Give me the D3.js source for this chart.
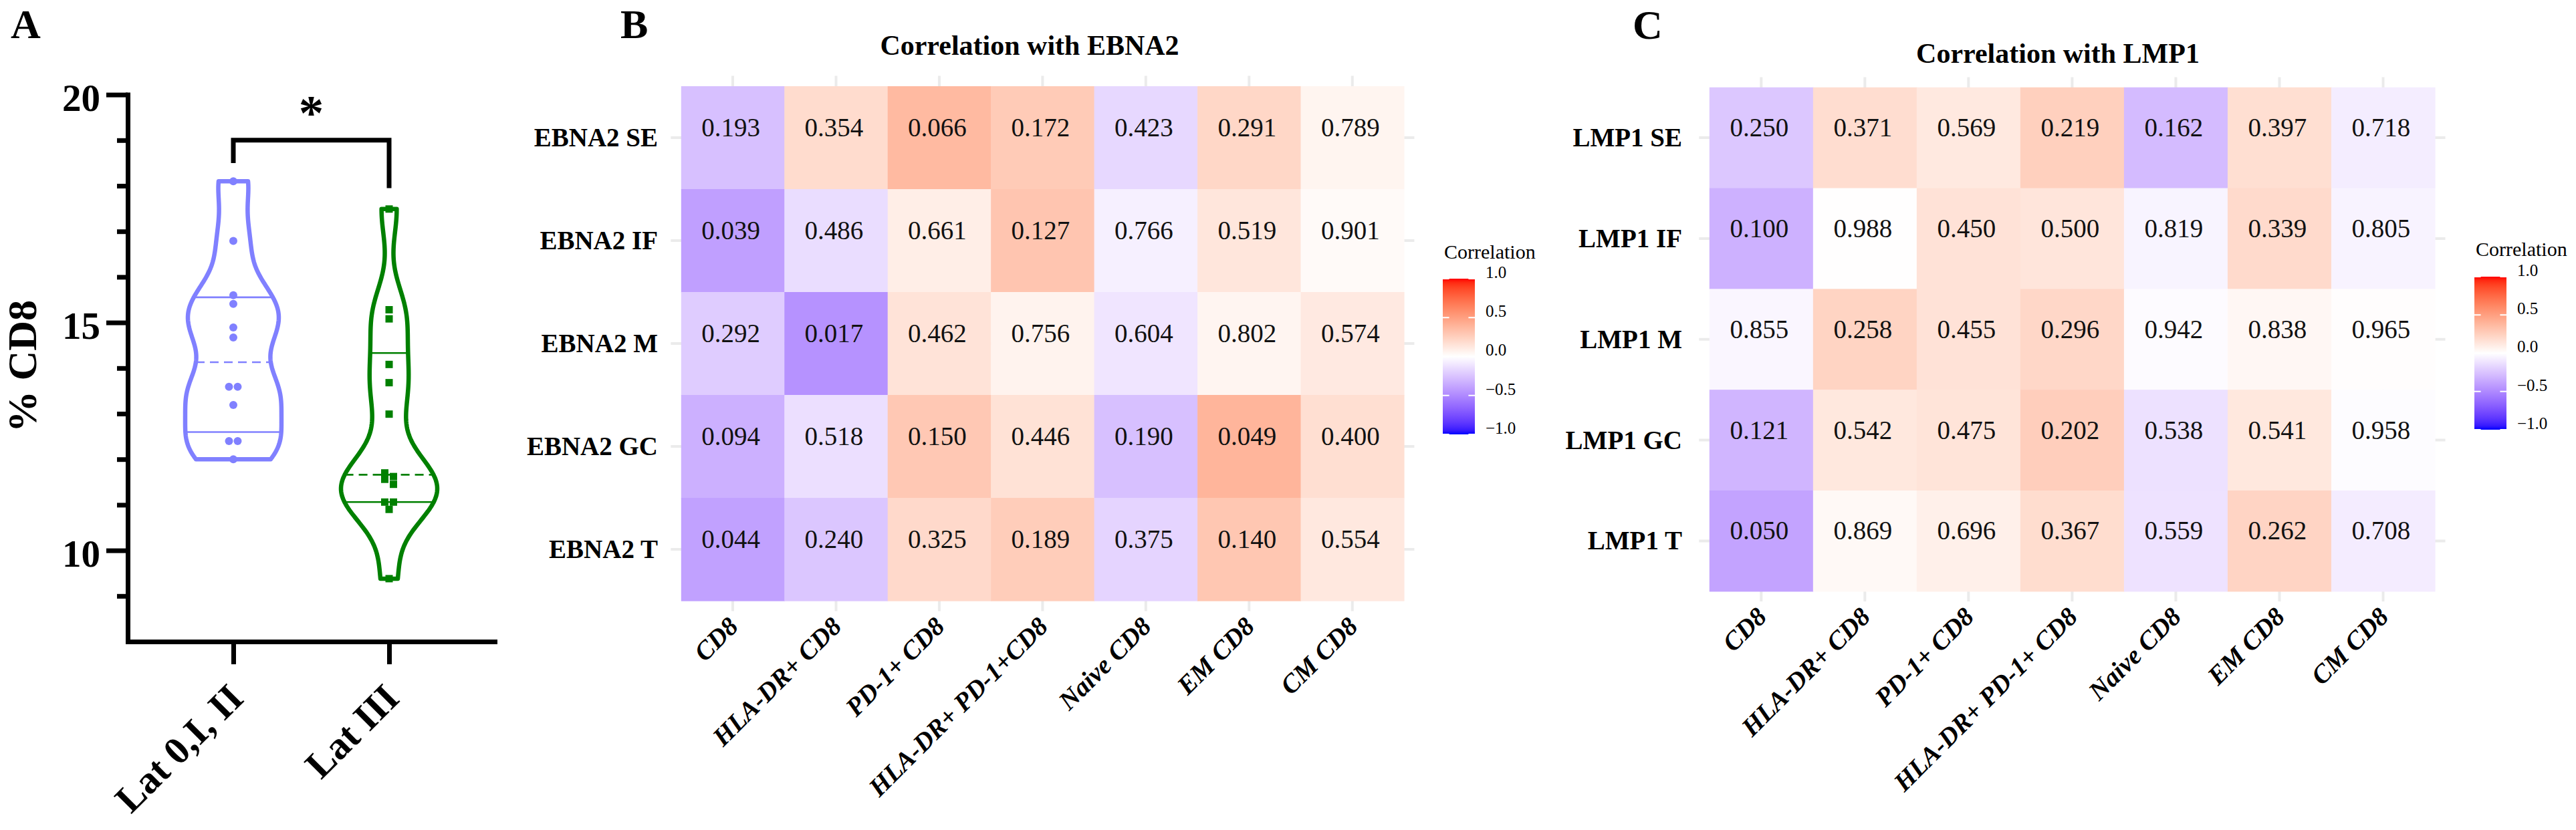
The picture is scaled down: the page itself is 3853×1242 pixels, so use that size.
<!DOCTYPE html>
<html>
<head>
<meta charset="utf-8">
<script src="https://cdn.jsdelivr.net/npm/d3@7"></script>
<style>
  body { margin: 0; background: #ffffff; }
  svg { display: block; }
  text { font-family: "Liberation Serif", "Times New Roman", Times, serif; }
</style>
</head>
<body>
<svg id="chart" width="3853" height="1242"></svg>
<script>
// ---------------- DATA ----------------
// Panel A: % CD8 per latency group
const groups = ["Lat 0,I, II", "Lat III"];
const lat012 = [18.10, 16.79, 15.60, 15.41, 14.89, 14.67, 13.59, 13.59, 13.19, 12.40, 12.40, 12.00];
const lat3 = [17.49, 15.28, 15.08, 14.08, 13.68, 12.99, 11.70, 11.62, 11.56, 11.45, 11.06, 11.06, 10.90, 9.38];
const yTicksMajor = [10, 15, 20];
const yTicksMinor = [9, 11, 12, 13, 14, 16, 17, 18, 19];
const sigText = "*";
const yTitle = "% CD8";

// Panels B and C: heatmaps (fill = correlation, text = p value)
const colsB = ["CD8", "HLA-DR+ CD8", "PD-1+ CD8", "HLA-DR+ PD-1+CD8", "Naive CD8", "EM CD8", "CM CD8"];
const colsC = ["CD8", "HLA-DR+ CD8", "PD-1+ CD8", "HLA-DR+ PD-1+ CD8", "Naive CD8", "EM CD8", "CM CD8"];
const rowsB = ["EBNA2 SE", "EBNA2 IF", "EBNA2 M", "EBNA2 GC", "EBNA2 T"];
const rowsC = ["LMP1 SE", "LMP1 IF", "LMP1 M", "LMP1 GC", "LMP1 T"];

const pB = [
  [0.193, 0.354, 0.066, 0.172, 0.423, 0.291, 0.789],
  [0.039, 0.486, 0.661, 0.127, 0.766, 0.519, 0.901],
  [0.292, 0.017, 0.462, 0.756, 0.604, 0.802, 0.574],
  [0.094, 0.518, 0.150, 0.446, 0.190, 0.049, 0.400],
  [0.044, 0.240, 0.325, 0.189, 0.375, 0.140, 0.554]
];
const rB = [
  [-0.265, 0.188, 0.365, 0.278, -0.163, 0.215, 0.055],
  [-0.406, -0.143, 0.090, 0.307, -0.061, 0.132, 0.026],
  [-0.215, -0.462, 0.150, 0.064, -0.107, 0.052, 0.116],
  [-0.334, -0.132, 0.291, 0.156, -0.266, 0.389, 0.171],
  [-0.397, -0.239, 0.200, 0.267, -0.180, 0.298, 0.122]
];
const pC = [
  [0.250, 0.371, 0.569, 0.219, 0.162, 0.397, 0.718],
  [0.100, 0.988, 0.450, 0.500, 0.819, 0.339, 0.805],
  [0.855, 0.258, 0.455, 0.296, 0.942, 0.838, 0.965],
  [0.121, 0.542, 0.475, 0.202, 0.538, 0.541, 0.958],
  [0.050, 0.869, 0.696, 0.367, 0.559, 0.262, 0.708]
];
const rC = [
  [-0.234, 0.182, 0.117, 0.250, -0.284, 0.172, -0.074],
  [-0.330, 0.003, 0.154, 0.138, -0.047, 0.195, -0.051],
  [-0.038, 0.230, 0.153, 0.213, -0.015, 0.042, 0.009],
  [-0.312, 0.125, 0.146, 0.260, -0.126, 0.125, -0.011],
  [-0.388, 0.034, 0.080, 0.183, -0.120, 0.228, -0.077]
];
const legendBreaks = [-1, -0.5, 0, 0.5, 1];
const legendTitle = "Correlation";

// ---------------- DRAW ----------------
const svg = d3.select("#chart");
const SERIF = '"Liberation Serif", "Times New Roman", Times, serif';

// ===== Panel A =====
const A = { left: 191, right: 740, top: 141.6, bottom: 960 };
const y = d3.scaleLinear().domain([8, 20]).range([A.bottom, A.top]);
const x = d3.scalePoint().domain(groups).range([A.left, A.right]).padding(0.678);
const gA = svg.append("g");

svg.append("text").attr("x", 16).attr("y", 57).attr("font-size", 62).attr("font-weight", 700).text("A");

// y axis (major)
gA.append("g")
  .attr("transform", `translate(${A.left},0)`)
  .call(d3.axisLeft(y).tickValues(yTicksMajor).tickSize(32).tickSizeOuter(0).tickPadding(9).tickFormat(d3.format("d")))
  .call(g => {
    g.attr("font-family", SERIF).attr("font-size", 57).attr("font-weight", 700);
    g.select(".domain").attr("stroke", "#000").attr("stroke-width", 7).attr("stroke-linecap", "square");
    g.selectAll(".tick line").attr("stroke", "#000").attr("stroke-width", 7);
    g.selectAll(".tick text").attr("fill", "#000").attr("dy", "0.42em");
  });
// y axis (minor)
gA.append("g")
  .attr("transform", `translate(${A.left},0)`)
  .call(d3.axisLeft(y).tickValues(yTicksMinor).tickSize(16).tickSizeOuter(0).tickFormat(""))
  .call(g => {
    g.select(".domain").remove();
    g.selectAll(".tick line").attr("stroke", "#000").attr("stroke-width", 7);
  });
// x axis
gA.append("g")
  .attr("transform", `translate(0,${A.bottom})`)
  .call(d3.axisBottom(x).tickSize(34).tickSizeOuter(0).tickFormat(""))
  .call(g => {
    g.select(".domain").attr("stroke", "#000").attr("stroke-width", 7).attr("stroke-linecap", "square");
    g.selectAll(".tick line").attr("stroke", "#000").attr("stroke-width", 7);
  });
// x labels rotated
gA.selectAll("text.xlab").data(groups).join("text")
  .attr("class", "xlab")
  .attr("transform", d => `translate(${x(d) + 18},1048) rotate(-45)`)
  .attr("text-anchor", "end").attr("font-size", 58).attr("font-weight", 700)
  .text(d => d);
// y title
gA.append("text").attr("transform", "translate(54,548) rotate(-90)")
  .attr("text-anchor", "middle").attr("font-size", 62).attr("font-weight", 700).text(yTitle);

// helpers
function quantileN1(vals, p) {
  const s = [...vals].sort((a, b) => a - b), n = s.length;
  const pos = p * (n + 1), k = Math.floor(pos), f = pos - k;
  if (k < 1) return s[0];
  if (k >= n) return s[n - 1];
  return s[k - 1] + f * (s[k] - s[k - 1]);
}
function density(vals, h) {
  return t => d3.sum(vals, v => Math.exp(-0.5 * ((t - v) / h) ** 2));
}
function rowOffsets(vals, yScale, thr, step) {
  const idx = vals.map((v, i) => i).sort((a, b) => vals[b] - vals[a]);
  const off = new Array(vals.length).fill(0);
  let row = [];
  const flush = () => { row.forEach((i, j) => off[i] = (j - (row.length - 1) / 2) * step); row = []; };
  idx.forEach(i => {
    if (row.length && Math.abs(yScale(vals[i]) - yScale(vals[row[0]])) >= thr) flush();
    row.push(i);
  });
  flush();
  return off;
}

function drawViolin(vals, grp, color, shape) {
  const cx = x(grp);
  // bandwidth from the data spread (scaled Silverman-type rule)
  const h = 0.5 * d3.deviation(vals) * Math.pow(vals.length, -0.2);
  const dens = density(vals, h);
  const lo = d3.min(vals), hi = d3.max(vals);
  const grid = d3.range(0, 201).map(i => lo + (hi - lo) * i / 200);
  const maxD = d3.max(grid, dens);
  const w = d3.scaleLinear().domain([0, maxD]).range([0, 72]);
  const right = grid.map(t => [cx + w(dens(t)), y(t)]);
  const left = grid.slice().reverse().map(t => [cx - w(dens(t)), y(t)]);
  const g = gA.append("g");
  g.append("path").attr("d", d3.line()(right.concat(left)) + "Z")
    .attr("fill", "none").attr("stroke", color).attr("stroke-width", 6.5).attr("stroke-linejoin", "round");
  const qs = [
    { v: quantileN1(vals, 0.25), dash: null },
    { v: quantileN1(vals, 0.5), dash: "13,8" },
    { v: quantileN1(vals, 0.75), dash: null }
  ];
  g.selectAll("line.q").data(qs).join("line").attr("class", "q")
    .attr("x1", d => cx - w(dens(d.v))).attr("x2", d => cx + w(dens(d.v)))
    .attr("y1", d => y(d.v)).attr("y2", d => y(d.v))
    .attr("stroke", color).attr("stroke-width", 2.6)
    .attr("stroke-dasharray", d => d.dash);
  const off = rowOffsets(vals, y, 8, 13);
  const pts = vals.map((v, i) => ({ v, o: off[i] }));
  if (shape === "circle") {
    g.selectAll("circle").data(pts).join("circle")
      .attr("cx", d => cx + d.o).attr("cy", d => y(d.v)).attr("r", 6).attr("fill", color);
  } else {
    g.selectAll("rect").data(pts).join("rect")
      .attr("x", d => cx + d.o - 5.5).attr("y", d => y(d.v) - 5.5).attr("width", 11).attr("height", 11).attr("fill", color);
  }
}
drawViolin(lat012, groups[0], "#8080ff", "circle");
drawViolin(lat3, groups[1], "#008000", "square");

// significance bracket
gA.append("path")
  .attr("d", `M${x(groups[0])},${y(18.5)}V${y(19.0)}H${x(groups[1])}V${y(17.95)}`)
  .attr("fill", "none").attr("stroke", "#000").attr("stroke-width", 7).attr("stroke-linejoin", "miter");
gA.append("text").attr("x", (x(groups[0]) + x(groups[1])) / 2).attr("y", 194)
  .attr("text-anchor", "middle").attr("font-size", 75).attr("font-weight", 700).text(sigText);

// ===== Heatmaps =====
const fillScale = d3.scaleLinear().domain([-1, 0, 1]).range(["#0000ff", "#ffffff", "#ff0000"]).interpolate(d3.interpolateLab);
const fmtP = d3.format(".3f");

function heatmap(cfg) {
  const g = svg.append("g");
  const xs = d3.scaleBand().domain(cfg.cols).range([cfg.x0, cfg.x1]);
  const ys = d3.scaleBand().domain(cfg.rows).range([cfg.y0, cfg.y1]);
  const bw = xs.bandwidth(), bh = ys.bandwidth();
  const ex = bw * 0.1, ey = bh * 0.1;
  // grid
  g.selectAll("line.gx").data(cfg.cols).join("line").attr("class", "gx")
    .attr("x1", d => xs(d) + bw / 2).attr("x2", d => xs(d) + bw / 2)
    .attr("y1", cfg.y0 - ey).attr("y2", cfg.y1 + ey)
    .attr("stroke", "#ebebeb").attr("stroke-width", 4);
  g.selectAll("line.gy").data(cfg.rows).join("line").attr("class", "gy")
    .attr("y1", d => ys(d) + bh / 2).attr("y2", d => ys(d) + bh / 2)
    .attr("x1", cfg.x0 - ex).attr("x2", cfg.x1 + ex)
    .attr("stroke", "#ebebeb").attr("stroke-width", 4);
  const cells = cfg.rows.flatMap((rw, i) => cfg.cols.map((c, j) => ({ row: rw, col: c, r: cfg.r[i][j], p: cfg.p[i][j] })));
  g.selectAll("rect.tile").data(cells).join("rect").attr("class", "tile")
    .attr("x", d => xs(d.col)).attr("y", d => ys(d.row))
    .attr("width", bw + 0.6).attr("height", bh + 0.6)
    .attr("fill", d => fillScale(d.r));
  g.selectAll("text.cell").data(cells).join("text").attr("class", "cell")
    .attr("x", d => xs(d.col) + bw / 2 - 3).attr("y", d => ys(d.row) + bh / 2 - 2)
    .attr("text-anchor", "middle").attr("font-size", 39).attr("fill", "#111")
    .text(d => fmtP(d.p));
  // row labels
  g.selectAll("text.rlab").data(cfg.rows).join("text").attr("class", "rlab")
    .attr("x", cfg.labelRight).attr("y", d => ys(d) + bh / 2 + 13)
    .attr("text-anchor", "end").attr("font-size", 39).attr("font-weight", 700)
    .text(d => d);
  // column labels
  g.selectAll("text.clab").data(cfg.cols).join("text").attr("class", "clab")
    .attr("transform", d => `translate(${xs(d) + bw / 2 - 8},${cfg.y1 + ey + 7}) rotate(-45)`)
    .attr("dy", "0.66em").attr("text-anchor", "end")
    .attr("font-size", 39).attr("font-weight", 700).attr("font-style", "italic")
    .text(d => d);
  // title
  g.append("text").attr("x", cfg.titleX).attr("y", cfg.titleY).attr("text-anchor", "middle")
    .attr("font-size", 42).attr("font-weight", 700).text(cfg.title);
  // panel letter
  g.append("text").attr("x", cfg.letterX).attr("y", cfg.letterY)
    .attr("font-size", 62).attr("font-weight", 700).text(cfg.letter);
  // legend
  const L = cfg.legend;
  const ly = d3.scaleLinear().domain([-1, 1]).range([L.bottom, L.top]);
  const gradId = "grad" + cfg.letter;
  const grad = svg.append("defs").append("linearGradient").attr("id", gradId)
    .attr("x1", 0).attr("y1", 1).attr("x2", 0).attr("y2", 0);
  grad.selectAll("stop").data(d3.range(0, 41)).join("stop")
    .attr("offset", d => d / 40).attr("stop-color", d => fillScale(-1 + 2 * d / 40));
  g.append("text").attr("x", L.x + 2).attr("y", L.titleY).attr("font-size", 30).text(legendTitle);
  g.append("rect").attr("x", L.x).attr("y", L.top).attr("width", 48).attr("height", L.bottom - L.top)
    .attr("fill", `url(#${gradId})`);
  g.selectAll("line.lt").data(legendBreaks).join("line").attr("class", "lt")
    .attr("x1", L.x).attr("x2", L.x + 9.6).attr("y1", d => ly(d)).attr("y2", d => ly(d))
    .attr("stroke", "#fff").attr("stroke-width", 2);
  g.selectAll("line.rt").data(legendBreaks).join("line").attr("class", "rt")
    .attr("x1", L.x + 48 - 9.6).attr("x2", L.x + 48).attr("y1", d => ly(d)).attr("y2", d => ly(d))
    .attr("stroke", "#fff").attr("stroke-width", 2);
  g.append("g").attr("transform", `translate(${L.x + 48},0)`)
    .call(d3.axisRight(ly).tickValues(legendBreaks).tickSize(0).tickPadding(16).tickFormat(d3.format(".1f")))
    .call(a => {
      a.attr("font-family", SERIF).attr("font-size", 25);
      a.select(".domain").remove();
      a.selectAll(".tick text").attr("fill", "#000").attr("dy", "-0.07em");
    });
}

heatmap({
  cols: colsB, rows: rowsB, r: rB, p: pB,
  x0: 1018.8, x1: 2100, y0: 129, y1: 899,
  labelRight: 984,
  title: "Correlation with EBNA2", titleX: 1540, titleY: 82,
  letter: "B", letterX: 928, letterY: 57,
  legend: { x: 2158, top: 417, bottom: 650, titleY: 387 }
});
heatmap({
  cols: colsC, rows: rowsC, r: rC, p: pC,
  x0: 2556.8, x1: 3642, y0: 130.7, y1: 884.8,
  labelRight: 2516,
  title: "Correlation with LMP1", titleX: 3078, titleY: 94,
  letter: "C", letterX: 2442, letterY: 58,
  legend: { x: 3701, top: 414, bottom: 643, titleY: 383 }
});
</script>
</body>
</html>
